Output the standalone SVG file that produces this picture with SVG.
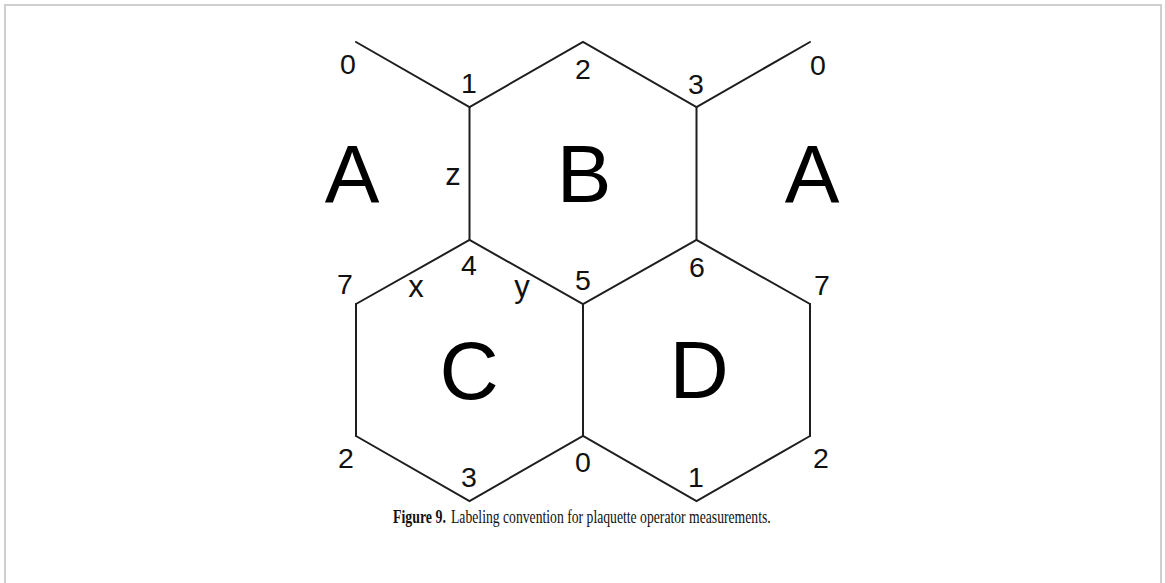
<svg xmlns="http://www.w3.org/2000/svg" width="1165" height="583" viewBox="0 0 1165 583">
<style>
.e{stroke:#1e1e1e;stroke-width:2;fill:none;stroke-linecap:round}
.n{font-family:"Liberation Sans",Arial,sans-serif;font-size:28.5px;fill:#111;text-anchor:middle}
.l{font-family:"Liberation Sans",Arial,sans-serif;font-size:31px;fill:#111;text-anchor:middle}
.p{font-family:"Liberation Sans",Arial,sans-serif;font-size:82px;fill:#000;text-anchor:middle}
.c{font-family:"Liberation Serif","Times New Roman",serif;font-size:19px;fill:#111}
</style>
<rect x="5" y="5" width="1156" height="600" fill="#fff" stroke="#cfcfcf" stroke-width="2"/>
<g id="connectors">
<path class="e" d="M356,42 L469.5,107 L583,42 L696.5,107 L810,42"/>
<path class="e" d="M469.5,107 V240 M696.5,107 V240"/>
<path class="e" d="M356,304 L469.5,240 L583,304 L696.5,240 L810,304"/>
<path class="e" d="M356,304 V436 M583,304 V436 M810,304 V436"/>
<path class="e" d="M356,436 L469.5,501 L583,436 L696.5,501 L810,436"/>
</g>
<g id="plaquette-A-left"><text class="p" x="352" y="202">A</text></g>
<g id="plaquette-B"><text class="p" x="584" y="202">B</text></g>
<g id="plaquette-A-right"><text class="p" x="812" y="202">A</text></g>
<g id="plaquette-C"><text class="p" x="469" y="399">C</text></g>
<g id="plaquette-D"><text class="p" x="699" y="398">D</text></g>
<g id="vertex-labels">
<text class="n" x="348" y="74">0</text>
<text class="n" x="469" y="93">1</text>
<text class="n" x="583" y="79">2</text>
<text class="n" x="696" y="94">3</text>
<text class="n" x="818" y="75">0</text>
<text class="n" x="469" y="275">4</text>
<text class="n" x="583" y="290">5</text>
<text class="n" x="697" y="277">6</text>
<text class="n" x="345" y="294">7</text>
<text class="n" x="822" y="295">7</text>
<text class="n" x="346" y="468">2</text>
<text class="n" x="469" y="487">3</text>
<text class="n" x="583" y="472">0</text>
<text class="n" x="696" y="487">1</text>
<text class="n" x="821" y="468">2</text>
</g>
<g id="edge-labels">
<text class="l" x="453" y="185">z</text>
<text class="l" x="416" y="297">x</text>
<text class="l" x="522" y="297">y</text>
</g>
<g id="caption">
<text class="c" transform="translate(393,523) scale(0.73,1)" font-weight="bold">Figure 9.</text>
<text class="c" transform="translate(451,523) scale(0.72,1)">Labeling convention for plaquette operator measurements.</text>
</g>
</svg>
